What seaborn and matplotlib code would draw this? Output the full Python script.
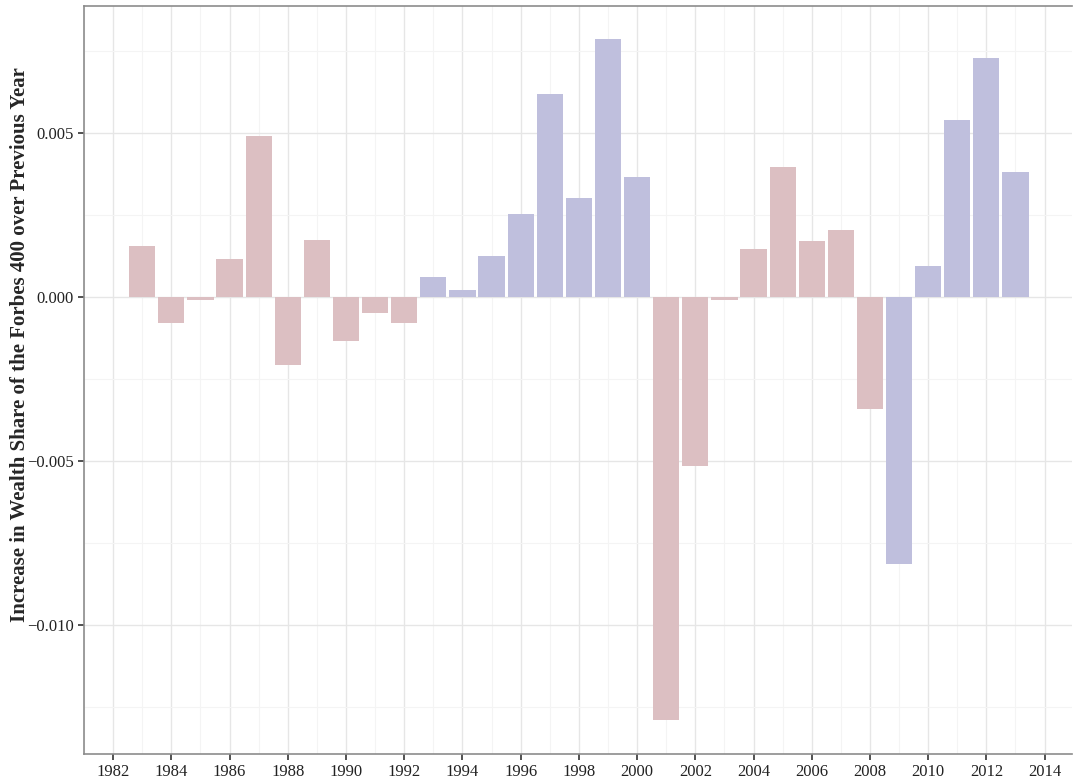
import numpy as np
import pandas as pd
import matplotlib
matplotlib.use('Agg')
import matplotlib.pyplot as plt
import seaborn as sns
from matplotlib.ticker import MultipleLocator, FixedLocator

# Year-over-year change in Forbes 400 wealth share
years = list(range(1983, 2014))
changes = [0.00155, -0.00079, -0.00010, 0.00116, 0.00491, -0.00207, 0.00174,
           -0.00134, -0.00049, -0.00079, 0.00061, 0.00021, 0.00125, 0.00253,
           0.00619, 0.00302, 0.00787, 0.00366, -0.01290, -0.00515, -0.00010,
           0.00146, 0.00396, 0.00171, 0.00204, -0.00341, -0.00814, 0.00095,
           0.00540, 0.00729, 0.00381]
party = (['R'] * 10) + (['D'] * 8) + (['R'] * 8) + (['D'] * 5)
palette = {'R': '#dcbfc2', 'D': '#bfbfdd'}

df = pd.DataFrame({'year': years, 'change': changes, 'party': party})

sns.set_style('white')
plt.rcParams['font.family'] = ['Liberation Serif', 'DejaVu Serif']

fig = plt.figure(figsize=(10.73, 7.83), dpi=100)
ax = fig.add_axes([0.0783, 0.037, 0.921, 0.9553])

sns.barplot(data=df, x='year', y='change', hue='party', palette=palette,
            native_scale=True, dodge=False, width=0.9, linewidth=0,
            saturation=1, legend=False, ax=ax, zorder=2)

ax.set_xlim(1981.0, 2014.95)
ax.set_ylim(-0.01393, 0.00887)

ax.xaxis.set_major_locator(FixedLocator(list(range(1982, 2015, 2))))
ax.xaxis.set_minor_locator(FixedLocator(list(range(1981, 2015, 2))))
ax.yaxis.set_major_locator(MultipleLocator(0.005))
ax.yaxis.set_minor_locator(MultipleLocator(0.0025))
ax.yaxis.set_major_formatter(plt.FuncFormatter(lambda v, p: f'{v:.3f}'.replace('-', '\u2212')))

ax.grid(which='major', color='#e6e6e6', linewidth=1.0, zorder=0)
ax.grid(which='minor', color='#f4f4f4', linewidth=0.8, zorder=0)
ax.set_axisbelow(True)

for s in ax.spines.values():
    s.set_color('#8c8c8c')
    s.set_linewidth(1.2)
ax.spines['right'].set_visible(False)

ax.tick_params(which='major', direction='out', length=4, width=1.2,
               color='#333333', labelsize=12, labelcolor='#222222')
ax.tick_params(which='minor', length=0)
ax.tick_params(axis='x', bottom=True)
ax.tick_params(axis='y', left=True)

ax.set_xlabel('')
ax.set_ylabel('Increase in Wealth Share of the Forbes 400 over Previous Year',
              fontsize=15, fontweight='bold')
ax.yaxis.label.set_va('center')
ax.yaxis.set_label_coords(-0.0648, 0.547)

fig.savefig('out.png', dpi=100)
